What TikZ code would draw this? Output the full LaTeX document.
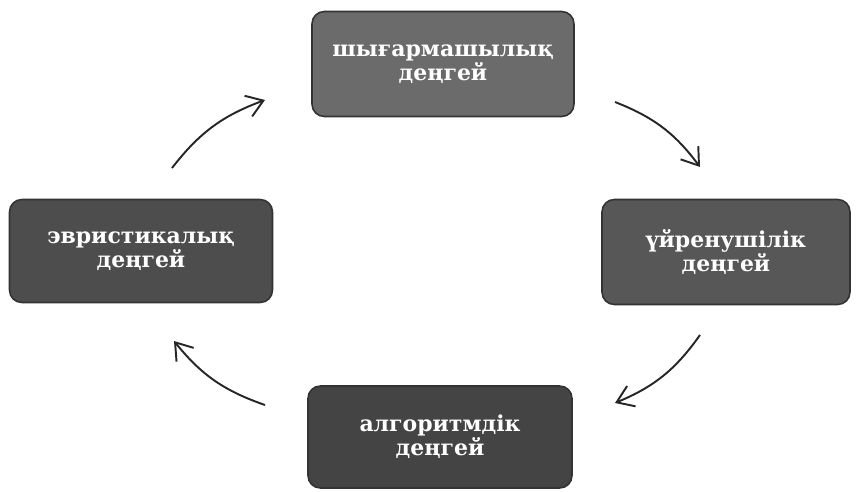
\documentclass[tikz,border=0pt]{standalone}
\usepackage{fontspec}
\setmainfont{DejaVu Serif}
\usepackage{xcolor}
\usetikzlibrary{calc, positioning, arrows.meta}

\definecolor{boxtop}{HTML}{6B6B6B}
\definecolor{boxright}{HTML}{575757}
\definecolor{boxleft}{HTML}{4D4D4D}
\definecolor{boxbottom}{HTML}{444444}

\begin{document}
\begin{tikzpicture}[x = 0.02cm, y = 0.02cm,
  lvl/.style = {draw = black!80, line width = 0.9pt, rounded corners = 7pt,
    minimum width = 5.1cm, minimum height = 2.06cm, align = center,
    text = white, font = \bfseries\fontsize{12.5}{11.8}\selectfont},
  cyc/.style = {line width = 1.1pt, black!85,
    -{Straight Barb[length = 3.2mm, width = 4.4mm]}}]
\useasboundingbox (0,0) rectangle (860,-491);
\node[lvl, fill = boxtop, minimum width = 5.24cm, minimum height = 2.1cm] (T) at (443,-64) {шығармашылық\\деңгей};
\node[lvl, fill = boxright, minimum width = 4.96cm, minimum height = 2.1cm] (R) at (726,-252) {үйренушілік\\деңгей};
\node[lvl, fill = boxleft, minimum width = 5.26cm] (L) at (141,-251) {эвристикалық\\деңгей};
\node[lvl, fill = boxbottom, minimum width = 5.28cm, minimum height = 2.04cm] (B) at (440,-437) {алгоритмдік\\деңгей};
% free arrow ends
\coordinate (l1) at (172,-168); \coordinate (t1) at (265,-100);
\coordinate (t2) at (615,-102); \coordinate (r1) at (700,-167);
\coordinate (r2) at (700,-335); \coordinate (b1) at (615,-403);
\coordinate (b2) at (265,-405); \coordinate (l2) at (174,-341);
\foreach \i/\j in {l1/t1, t2/r1, r2/b1, b2/l2}{
\draw[cyc] (\i) to[bend left = 16] (\j);
}
\end{tikzpicture}
\end{document}
